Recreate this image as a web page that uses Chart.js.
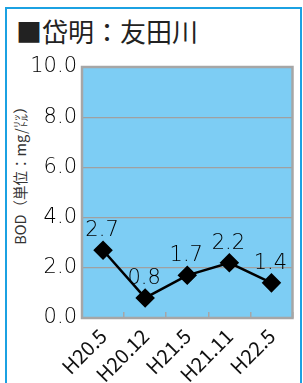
<!DOCTYPE html>
<html>
<head>
<meta charset="utf-8">
<script src="https://cdn.jsdelivr.net/npm/chart.js@4"></script>
<style>
  html, body { margin: 0; padding: 0; background: #fff; }
  #wrap { position: relative; width: 303px; height: 383px; overflow: hidden; }
  #frame { position: absolute; left: 5px; top: 7px; width: 293px; height: 400px;
           border: 2px solid #1ba1e2; border-bottom: none; }
  #title { position: absolute; left: 16px; top: 15px; font-family: "Noto Sans CJK JP", sans-serif;
           font-size: 26px; line-height: 32px; color: #222; white-space: nowrap; }
  #ytitle { position: absolute; left: 19px; top: 172px; transform: translate(-50%, -50%) rotate(-90deg);
            font-family: "Noto Sans CJK JP", sans-serif; font-size: 14.5px; color: #333; white-space: nowrap; }
  canvas { position: absolute; left: 0; top: 0; }
</style>
</head>
<body>
<div id="wrap">
  <div id="frame"></div>
  <div id="title">■岱明：友田川</div>
  <div id="ytitle">BOD（単位：mg/㍑）</div>
  <canvas id="c" width="303" height="383"></canvas>
</div>
<script>
const categories = ["H20.5", "H20.12", "H21.5", "H21.11", "H22.5"];
const bodValues = [2.7, 0.8, 1.7, 2.2, 1.4];
const yTicks = [0, 2, 4, 6, 8, 10];

const NUMFONT = '"DejaVu Sans", sans-serif';
const JPFONT = '"Noto Sans CJK JP", sans-serif';

const plotBg = {
  id: 'plotBg',
  beforeDraw(chart) {
    const { ctx, chartArea: a } = chart;
    ctx.save();
    ctx.fillStyle = '#7dcdf4';
    ctx.fillRect(a.left, a.top, a.right - a.left, a.bottom - a.top);
    ctx.restore();
  },
  beforeDatasetsDraw(chart) {
    const { ctx, chartArea: a } = chart;
    ctx.save();
    ctx.strokeStyle = '#a6a6a6';
    ctx.lineWidth = 2.5;
    ctx.strokeRect(a.left, a.top, a.right - a.left, a.bottom - a.top);
    ctx.restore();
  }
};

const valueLabels = {
  id: 'valueLabels',
  afterDatasetsDraw(chart) {
    const { ctx } = chart;
    const meta = chart.getDatasetMeta(0);
    ctx.save();
    ctx.font = '200 21px ' + NUMFONT;
    ctx.fillStyle = '#000';
    ctx.textAlign = 'center';
    ctx.textBaseline = 'alphabetic';
    meta.data.forEach((pt, i) => {
      ctx.fillText(bodValues[i].toFixed(1), pt.x - 1, pt.y - 14);
    });
    ctx.restore();
  }
};

new Chart(document.getElementById('c'), {
  type: 'line',
  data: {
    labels: categories,
    datasets: [{
      data: bodValues,
      borderColor: '#000',
      borderWidth: 2.5,
      backgroundColor: '#000',
      pointStyle: 'rectRot',
      pointRadius: 8,
      pointBackgroundColor: '#000',
      pointBorderColor: '#000',
      tension: 0
    }]
  },
  options: {
    responsive: false,
    animation: false,
    events: [],
    layout: { padding: { left: 0, right: 9, top: 67, bottom: 0 } },
    plugins: { legend: { display: false }, tooltip: { enabled: false } },
    scales: {
      x: {
        type: 'category',
        offset: true,
        border: { display: false },
        grid: { display: true, drawOnChartArea: false, drawTicks: true, tickLength: -6, color: '#a6a6a6', lineWidth: 1.5, offset: true },
        ticks: { maxRotation: 45, minRotation: 45, padding: 12, color: '#111', font: { family: JPFONT, size: 20 } },
        afterFit(scale) { scale.height = 65; }
      },
      y: {
        min: 0, max: 10,
        border: { display: false },
        afterBuildTicks(scale) { scale.ticks = yTicks.map(v => ({ value: v })); },
        grid: { color: '#a0a0a0', lineWidth: 1.2, drawTicks: false },
        ticks: { padding: 5, color: '#000', font: { family: NUMFONT, size: 21, weight: 200 },
                 callback: v => Number(v).toFixed(1) },
        afterFit(scale) { scale.width = 82; }
      }
    }
  },
  plugins: [plotBg, valueLabels]
});
</script>
</body>
</html>
